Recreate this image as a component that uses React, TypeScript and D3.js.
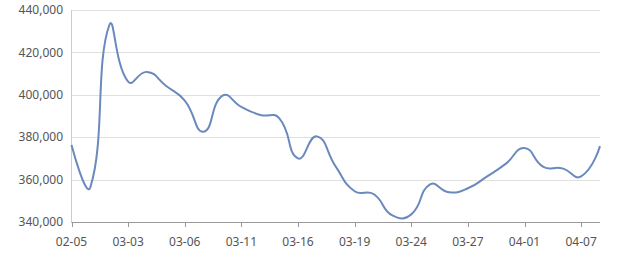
import React from "react";
import * as d3 from "d3";

const dates = [
  "02-05", "02-27", "03-02", "03-03", "03-04", "03-05", "03-06", "03-09", "03-10", "03-11",
  "03-12", "03-13", "03-16", "03-17", "03-18", "03-19", "03-20", "03-23", "03-24", "03-25",
  "03-26", "03-27", "03-30", "03-31", "04-01", "04-02", "04-03", "04-07", "04-08",
];
const values = [
  376300, 356400, 432800, 406200, 410800, 404300, 397300, 382600, 399600, 394300,
  390500, 389000, 370000, 380400, 366100, 354500, 353200, 343100, 343600, 357700,
  354000, 355900, 361400, 367400, 374900, 366000, 365300, 361500, 375800,
];
const yTicks = [340000, 360000, 380000, 400000, 420000, 440000];
const labelEvery = 3;

const W = 640, H = 270;
const left = 71.5, right = 600, top = 10, bottom = 222;

function smoothPath(pts: [number, number][], smooth = 0.5): string {
  let d = "";
  let cpx0 = pts[0][0], cpy0 = pts[0][1];
  d += `M${pts[0][0]},${pts[0][1]}`;
  for (let i = 1; i < pts.length; i++) {
    const [x, y] = pts[i];
    const [px, py] = pts[i - 1];
    const nx = i + 1 < pts.length ? pts[i + 1][0] : x;
    const ny = i + 1 < pts.length ? pts[i + 1][1] : y;
    let cpx1: number, cpy1: number, ncx: number, ncy: number;
    if (i + 1 < pts.length) {
      const vx = nx - px, vy = ny - py;
      const l0 = Math.hypot(x - px, y - py);
      const l1 = Math.hypot(nx - x, ny - y);
      const r = l1 / (l0 + l1);
      ncx = x + vx * smooth * r;
      ncy = y + vy * smooth * r;
      cpx1 = x - vx * smooth * (1 - r);
      cpy1 = y - vy * smooth * (1 - r);
    } else {
      cpx1 = x; cpy1 = y; ncx = x; ncy = y;
    }
    d += `C${cpx0},${cpy0},${cpx1},${cpy1},${x},${y}`;
    cpx0 = ncx; cpy0 = ncy;
  }
  return d;
}

export default function App() {
  const x = d3.scalePoint<string>().domain(dates).range([left, right]);
  const y = d3.scaleLinear().domain([340000, 440000]).range([bottom, top]);
  const fmt = d3.format(",");
  const pts: [number, number][] = dates.map((dt, i) => [x(dt)!, y(values[i])]);
  const path = smoothPath(pts, 0.5);
  const font = "'Microsoft YaHei', 'Noto Sans', 'DejaVu Sans', sans-serif";
  return (
    <svg width={W} height={H} style={{ position: "absolute", left: 0, top: 0, background: "#fff" }}>
      {yTicks.map((t) => (
        <g key={t}>
          <line x1={left} x2={right} y1={Math.round(y(t)) + 0.5} y2={Math.round(y(t)) + 0.5} stroke="#e0e0e0" strokeWidth={1} />
          <text x={63} y={y(t)} dy="0.35em" textAnchor="end" fontSize={12} fill="#555" fontFamily={font}>
            {fmt(t)}
          </text>
        </g>
      ))}
      <line x1={left} x2={left} y1={top} y2={bottom} stroke="#ccc" strokeWidth={1} />
      <line x1={left} x2={right} y1={bottom + 0.5} y2={bottom + 0.5} stroke="#999" strokeWidth={1} />
      {dates.map((dt, i) =>
        i % labelEvery === 0 ? (
          <g key={dt}>
            <line x1={Math.round(x(dt)!) + 0.5} x2={Math.round(x(dt)!) + 0.5} y1={bottom} y2={bottom + 5} stroke="#999" />
            <text x={x(dt)!} y={246} textAnchor="middle" fontSize={12} fill="#555" fontFamily={font}>
              {dt}
            </text>
          </g>
        ) : null
      )}
      <path d={path} fill="none" stroke="#6a89bd" strokeWidth={2} strokeLinejoin="round" />
    </svg>
  );
}
